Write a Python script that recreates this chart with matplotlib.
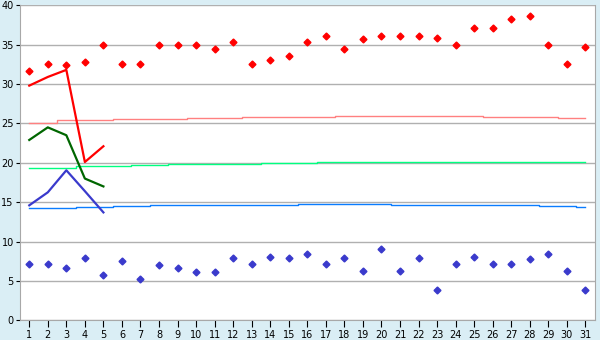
import matplotlib
matplotlib.use('Agg')
import matplotlib.pyplot as plt

# jours du mois
jours = list(range(1, 32))

# maxima / minima journaliers (points)
t_max = [31.6, 32.5, 32.4, 32.8, 35.0, 32.5, 32.6, 35.0, 35.0, 35.0,
         34.4, 35.3, 32.5, 33.1, 33.5, 35.3, 36.1, 34.5, 35.7, 36.1,
         36.1, 36.1, 35.9, 34.9, 37.1, 37.1, 38.2, 38.7, 35.0, 32.6, 34.7]
t_min = [7.2, 7.2, 6.6, 7.9, 5.7, 7.5, 5.2, 7.0, 6.6, 6.1,
         6.1, 7.9, 7.1, 8.0, 7.9, 8.4, 7.1, 7.9, 6.2, 9.0,
         6.2, 7.9, 3.9, 7.2, 8.1, 7.2, 7.2, 7.8, 8.4, 6.2, 3.9]

# courbes sur les 5 premiers jours
jours_5 = [1, 2, 3, 4, 5]
courbe_max = [29.8, 30.9, 31.8, 20.1, 22.1]
courbe_moy = [22.9, 24.5, 23.5, 18.0, 17.0]
courbe_min = [14.6, 16.25, 19.05, 16.4, 13.7]

# normales (lignes fines)
normale_max = [25.1, 25.1, 25.4, 25.4, 25.4, 25.56, 25.56, 25.56, 25.56, 25.7,
               25.7, 25.7, 25.8, 25.8, 25.8, 25.8, 25.8, 25.94, 25.94, 25.94,
               25.94, 25.94, 25.94, 25.94, 25.94, 25.8, 25.8, 25.8, 25.8, 25.7, 25.7]
normale_moy = [19.3, 19.3, 19.3, 19.56, 19.56, 19.56, 19.68, 19.68, 19.81, 19.81,
               19.81, 19.81, 19.81, 19.94, 19.94, 19.94, 20.06, 20.06, 20.06, 20.06,
               20.06, 20.06, 20.06, 20.06, 20.06, 20.06, 20.06, 20.06, 20.06, 20.06, 20.06]
normale_min = [14.22, 14.22, 14.22, 14.35, 14.35, 14.48, 14.48, 14.6, 14.6, 14.6,
               14.6, 14.6, 14.6, 14.6, 14.6, 14.73, 14.73, 14.73, 14.73, 14.73,
               14.6, 14.6, 14.6, 14.6, 14.6, 14.6, 14.6, 14.6, 14.48, 14.48, 14.35]

fond = '#daeef5'
fig = plt.figure(figsize=(6, 3.4), dpi=100, facecolor=fond)
ax = fig.add_axes([20/600, 1 - 320.3/340, 574.6/600, 315/340])
ax.set_facecolor('white')

ax.plot(jours, normale_max, color='#ff8080', lw=1, drawstyle='steps-mid')
ax.plot(jours, normale_moy, color='#00ff80', lw=1, drawstyle='steps-mid')
ax.plot(jours, normale_min, color='#0a7cff', lw=1, drawstyle='steps-mid')

ax.plot(jours_5, courbe_max, color='#ff0000', lw=1.6)
ax.plot(jours_5, courbe_moy, color='#006600', lw=1.6)
ax.plot(jours_5, courbe_min, color='#3a3acc', lw=1.6)

ax.plot(jours, t_max, 'D', color='#ff0000', ms=3.5, ls='none')
ax.plot(jours, t_min, 'D', color='#3a3acc', ms=3.5, ls='none')

ax.set_xlim(0.5, 31.5)
ax.set_ylim(0, 40)
ax.set_xticks(jours)
ax.set_yticks(range(0, 41, 5))
ax.yaxis.grid(True, color='#b0b0b0', lw=1)
ax.set_axisbelow(True)
for s in ['top', 'right', 'left', 'bottom']:
    ax.spines[s].set_color('#a8a8a8')
ax.spines['top'].set_visible(False)
ax.tick_params(axis='both', direction='out', length=3, color='#000000',
               labelsize=7, pad=1.5)
ax.tick_params(axis='x', length=5, pad=2)

plt.savefig('out.png', dpi=100, facecolor=fond)
